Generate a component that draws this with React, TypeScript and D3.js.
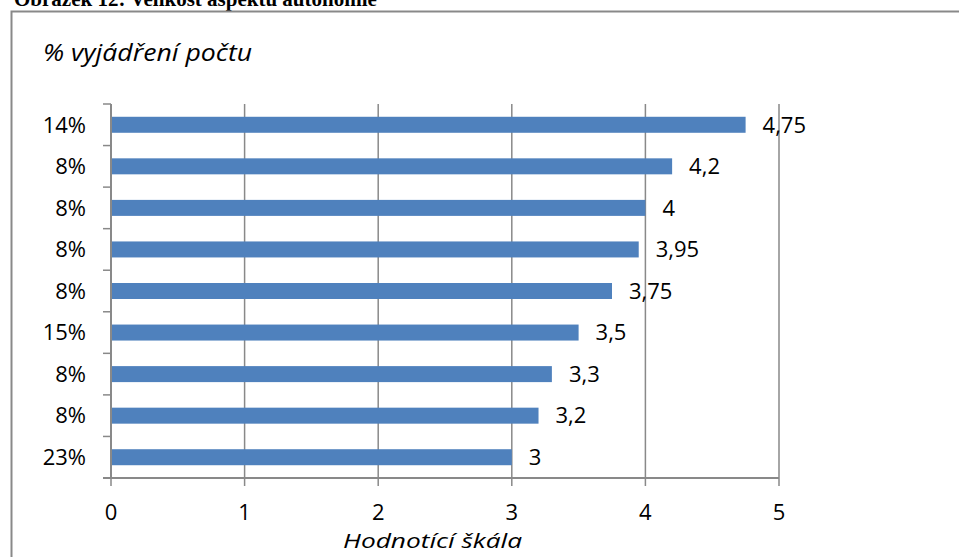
import React from "react";
import * as d3 from "d3";

// Percentage share of respondents for each rating level (top to bottom)
const shares: string[] = ["14%", "8%", "8%", "8%", "8%", "15%", "8%", "8%", "23%"];
// Average rating on the scale for each group
const ratings: number[] = [4.75, 4.2, 4, 3.95, 3.75, 3.5, 3.3, 3.2, 3];
const xTicks: number[] = [0, 1, 2, 3, 4, 5];

const title = "Obrázek 12: Velikost aspektu autonomie";
const yTitle = "% vyjádření počtu";
const xTitle = "Hodnotící škála";

const W = 959;
const H = 557;
const FONT = "'Open Sans', sans-serif";
const GRID = "#898989";
const BAR = "#4F81BD";

const fmt = (v: number) => String(v).replace(".", ",");

export default function App() {
  const keys = shares.map((_, i) => String(i));
  const x = d3.scaleLinear().domain([0, 5]).range([111, 779]);
  const y = d3
    .scaleBand<string>()
    .domain(keys)
    .range([104, 478])
    .paddingInner(0.615)
    .paddingOuter(0.3075);
  const step = y.step();
  const bounds = d3.range(keys.length + 1).map((i) => 104 + i * step);

  return (
    <svg
      width={W}
      height={H}
      style={{ position: "fixed", left: 0, top: 0, background: "#fff" }}
    >
      <rect x={0} y={0} width={W} height={H} fill="#fff" />
      <text
        x={14}
        y={6}
        fontFamily="'Liberation Serif', 'Times New Roman', serif"
        fontWeight="bold"
        fontSize={21}
        fill="#000"
      >
        {title}
      </text>
      {/* chart frame */}
      <path d={`M11.5,${H} V11.5 H${W}`} fill="none" stroke={GRID} strokeWidth={2} />

      {/* vertical gridlines and x ticks */}
      {xTicks.map((t) => (
        <g key={t}>
          {t > 0 && (
            <line x1={x(t)} x2={x(t)} y1={104} y2={478} stroke={GRID} strokeWidth={1.5} />
          )}
          <line x1={x(t)} x2={x(t)} y1={478} y2={486} stroke={GRID} strokeWidth={1.5} />
          <text
            x={x(t)}
            y={520}
            textAnchor="middle"
            fontFamily={FONT}
            fontSize={22}
            fill="#000"
          >
            {t}
          </text>
        </g>
      ))}

      {/* bars */}
      {ratings.map((v, i) => (
        <rect
          key={i}
          x={x(0)}
          y={y(String(i))!}
          width={x(v) - x(0)}
          height={y.bandwidth()}
          fill={BAR}
        />
      ))}

      {/* axes */}
      <line x1={111} x2={111} y1={104} y2={478} stroke={GRID} strokeWidth={2} />
      <line x1={103} x2={779} y1={478} y2={478} stroke={GRID} strokeWidth={2} />
      {bounds.map((b, i) => (
        <line key={i} x1={103} x2={111} y1={b} y2={b} stroke={GRID} strokeWidth={1.5} />
      ))}

      {/* category labels */}
      {shares.map((s, i) => (
        <text
          key={i}
          x={86}
          y={y(String(i))! + y.bandwidth() / 2 + 7.8}
          textAnchor="end"
          fontFamily={FONT}
          fontSize={22}
          fill="#000"
        >
          {s}
        </text>
      ))}

      {/* value labels */}
      {ratings.map((v, i) => (
        <text
          key={i}
          x={x(v) + 17}
          y={y(String(i))! + y.bandwidth() / 2 + 7.8}
          fontFamily={FONT}
          fontSize={22}
          fill="#000"
        >
          {fmt(v)}
        </text>
      ))}

      {/* axis titles */}
      <text
        x={43}
        y={61}
        fontFamily={FONT}
        fontStyle="italic"
        fontSize={23}
        textLength={209}
        lengthAdjust="spacingAndGlyphs"
        fill="#000"
      >
        {yTitle}
      </text>
      <text
        x={343}
        y={548}
        fontFamily={FONT}
        fontStyle="italic"
        fontSize={20.5}
        textLength={179}
        lengthAdjust="spacingAndGlyphs"
        fill="#000"
      >
        {xTitle}
      </text>
    </svg>
  );
}
